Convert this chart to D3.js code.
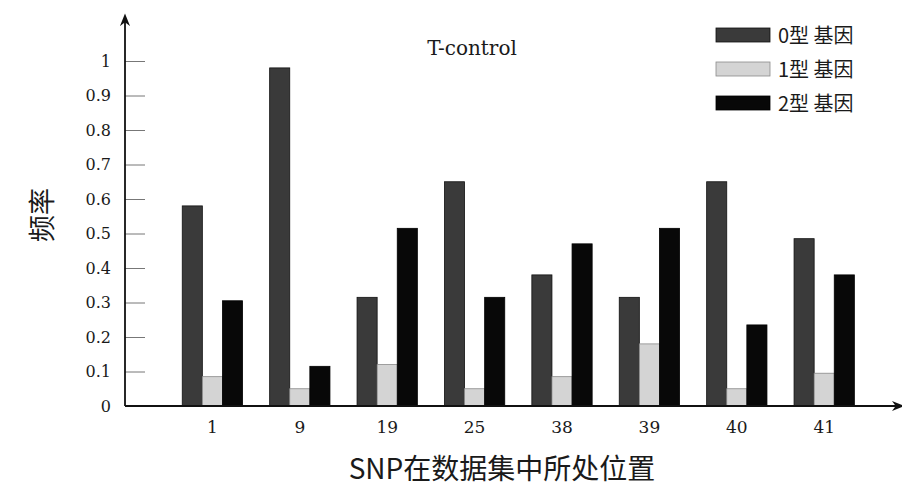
<!DOCTYPE html>
<html>
<head>
<meta charset="utf-8">
<script src="https://cdn.jsdelivr.net/npm/d3@7"></script>
<style>
  html, body { margin: 0; padding: 0; background: #fff; }
  svg { display: block; }
</style>
</head>
<body>
<svg id="chart" width="902" height="491"></svg>
<script>
// SNP positions on the x axis
const positions = ["1", "9", "19", "25", "38", "39", "40", "41"];
// genotype frequencies per SNP position
const type0 = [0.58, 0.98, 0.315, 0.65, 0.38, 0.315, 0.65, 0.485];
const type1 = [0.085, 0.05, 0.12, 0.05, 0.085, 0.18, 0.05, 0.095];
const type2 = [0.305, 0.115, 0.515, 0.315, 0.47, 0.515, 0.235, 0.38];
const seriesNames = ["0型 基因", "1型 基因", "2型 基因"];
const yTicks = [0, 0.1, 0.2, 0.3, 0.4, 0.5, 0.6, 0.7, 0.8, 0.9, 1];

const series = [type0, type1, type2];
const fills = ["#3a3a3a", "#d4d4d4", "#080808"];
const strokes = ["#111", "#8a8a8a", "#000"];

const svg = d3.select("#chart");
const serif = "'DejaVu Serif', 'Liberation Serif', serif";
const cjk = "'Noto Sans CJK SC', sans-serif";

const originX = 125, originY = 406;
const step = 87.4;

const x = d3.scaleBand()
  .domain(positions)
  .range([originX + step * 0.5, originX + step * 8.5])
  .paddingInner(0.31)
  .paddingOuter(0.155);

const xSub = d3.scaleBand()
  .domain(d3.range(series.length))
  .range([0, x.bandwidth()]);

const y = d3.scaleLinear().domain([0, 1]).range([originY, 61]);

// bars
series.forEach((vals, s) => {
  svg.append("g")
    .selectAll("rect")
    .data(vals)
    .join("rect")
    .attr("x", (d, i) => x(positions[i]) + xSub(s))
    .attr("y", d => y(d))
    .attr("width", xSub.bandwidth())
    .attr("height", d => y(0) - y(d))
    .attr("fill", fills[s])
    .attr("stroke", strokes[s])
    .attr("stroke-width", 0.8);
});

// y axis ticks and labels
const yAxis = d3.axisLeft(y)
  .tickValues(yTicks)
  .tickSize(-20)
  .tickFormat(d => d3.format("~g")(d));
const gy = svg.append("g").attr("transform", `translate(${originX},0)`).call(yAxis);
gy.select(".domain").remove();
gy.selectAll(".tick line").attr("stroke", "#777").attr("stroke-width", 1);
gy.selectAll(".tick text")
  .attr("x", -14)
  .attr("font-family", serif)
  .attr("font-size", 16)
  .attr("fill", "#1a1a1a");

// x axis labels
const gx = svg.append("g")
  .attr("transform", `translate(0,${originY})`)
  .call(d3.axisBottom(x).tickSize(0).tickPadding(15));
gx.select(".domain").remove();
gx.selectAll(".tick text")
  .attr("font-family", serif)
  .attr("font-size", 17)
  .attr("fill", "#1a1a1a");

// axis lines with arrowheads
const defs = svg.append("defs");
defs.append("marker")
  .attr("id", "arrow")
  .attr("viewBox", "0 0 10 10")
  .attr("refX", 8).attr("refY", 5)
  .attr("markerWidth", 7).attr("markerHeight", 7)
  .attr("orient", "auto")
  .append("path")
  .attr("d", "M0,1 L10,5 L0,9 L3,5 Z")
  .attr("fill", "#111");

svg.append("line")
  .attr("x1", originX).attr("y1", originY)
  .attr("x2", originX).attr("y2", 16)
  .attr("stroke", "#111").attr("stroke-width", 1.8)
  .attr("marker-end", "url(#arrow)");
svg.append("line")
  .attr("x1", originX).attr("y1", originY)
  .attr("x2", 902).attr("y2", originY)
  .attr("stroke", "#111").attr("stroke-width", 1.8)
  .attr("marker-end", "url(#arrow)");

// title
svg.append("text")
  .attr("x", 472).attr("y", 55)
  .attr("text-anchor", "middle")
  .attr("font-family", serif)
  .attr("font-size", 20)
  .attr("fill", "#1a1a1a")
  .text("T-control");

// legend
const legend = svg.append("g").attr("transform", "translate(716,28)");
seriesNames.forEach((name, s) => {
  const g = legend.append("g").attr("transform", `translate(0,${s * 34})`);
  g.append("rect")
    .attr("width", 54).attr("height", 14)
    .attr("fill", fills[s])
    .attr("stroke", strokes[s])
    .attr("stroke-width", 0.8);
  g.append("text")
    .attr("x", 62).attr("y", 15)
    .attr("font-family", cjk)
    .attr("font-size", 20)
    .attr("fill", "#1a1a1a")
    .text(name);
});

// axis titles
svg.append("text")
  .attr("transform", "translate(52,215) rotate(-90)")
  .attr("text-anchor", "middle")
  .attr("font-family", cjk)
  .attr("font-size", 27)
  .attr("fill", "#1a1a1a")
  .text("频率");

svg.append("text")
  .attr("x", 502).attr("y", 479)
  .attr("text-anchor", "middle")
  .attr("font-family", cjk)
  .attr("font-size", 28)
  .attr("fill", "#1a1a1a")
  .text("SNP在数据集中所处位置");
</script>
</body>
</html>
